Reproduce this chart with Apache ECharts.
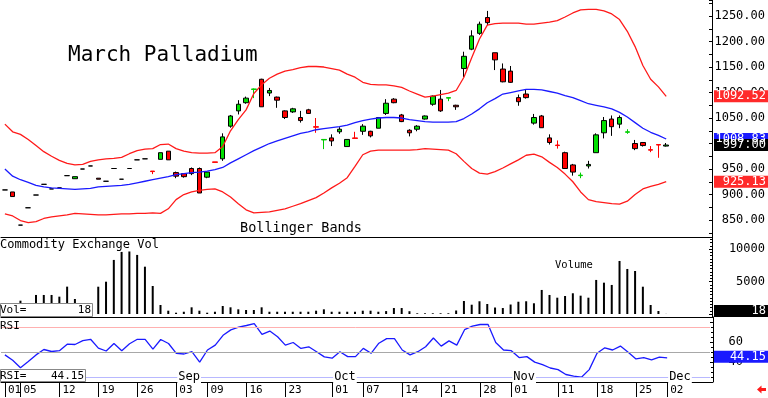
<!DOCTYPE html>
<html>
<head>
<meta charset="utf-8">
<script src="https://cdn.jsdelivr.net/npm/echarts@6/dist/echarts.min.js"></script>
<style>
  html, body { margin: 0; padding: 0; background: #fff; }
  #chart { width: 768px; height: 398px; }
</style>
</head>
<body>
<div id="chart"></div>
<script>
// trading days, Aug 01 - Dec 02
const dates = [
  '08-01','08-02','08-05','08-06','08-07','08-08','08-09','08-12','08-13','08-14',
  '08-15','08-16','08-19','08-20','08-21','08-22','08-23','08-26','08-27','08-28',
  '08-29','08-30','09-03','09-04','09-05','09-06','09-09','09-10','09-11','09-12',
  '09-13','09-16','09-17','09-18','09-19','09-20','09-23','09-24','09-25','09-26',
  '09-27','09-30','10-01','10-02','10-03','10-04','10-07','10-08','10-09','10-10',
  '10-11','10-14','10-15','10-16','10-17','10-18','10-21','10-22','10-23','10-24',
  '10-25','10-28','10-29','10-30','10-31','11-01','11-04','11-05','11-06','11-07',
  '11-08','11-11','11-12','11-13','11-14','11-15','11-18','11-19','11-20','11-21',
  '11-22','11-25','11-26','11-27','11-29','12-02'
];

const opens = [
  909, 905, 840, 874, 899, 920, 911, 913, 937, 931,
  950, 956, 932, 926, 951, 930, 951, 968, 970, 946,
  969, 985, 943, 941, 951, 951, 934, 964, 970, 1034,
  1064, 1080, 1106, 1126, 1099, 1091, 1064, 1062, 1051, 1066,
  1033, 1007, 1011, 1023, 994, 1011, 1024, 1024, 1030, 1059,
  1087, 1056, 1026, 1028, 1048, 1077, 1087, 1089, 1075, 1147,
  1185, 1216, 1247, 1178, 1146, 1142, 1090, 1097, 1040, 1054,
  1011, 997, 982, 958, 937, 956, 982, 1021, 1048, 1038,
  1022, 1000, 1002, 988, 998, 995
];
const closes = [
  909, 896, 840, 874, 899, 920, 911, 913, 937, 935,
  950, 956, 930, 926, 951, 930, 951, 968, 970, 945,
  982, 968, 936, 935, 941, 903, 944, 963, 1013, 1054,
  1077, 1089, 1107, 1072, 1104, 1085, 1051, 1068, 1045, 1059,
  1032, 1008, 1005, 1028, 1008, 1010, 1034, 1015, 1051, 1079,
  1080, 1043, 1021, 1034, 1054, 1093, 1064, 1090, 1072, 1171,
  1211, 1234, 1237, 1164, 1121, 1120, 1082, 1090, 1051, 1031,
  1002, 996, 951, 944, 938, 959, 1017, 1045, 1033, 1051,
  1023, 990, 996, 987, 997, 997
];
const lows = [
  909, 896, 840, 874, 899, 920, 911, 913, 937, 931,
  950, 956, 930, 926, 951, 930, 951, 968, 970, 940,
  969, 968, 932, 933, 938, 903, 932, 963, 966, 1031,
  1057, 1078, 1089, 1072, 1093, 1070, 1048, 1060, 1041, 1058,
  1021, 989, 995, 1019, 994, 1010, 1017, 1012, 1030, 1056,
  1079, 1042, 1014, 1024, 1047, 1074, 1062, 1083, 1066, 1130,
  1183, 1213, 1232, 1144, 1120, 1119, 1074, 1088, 1037, 1031,
  998, 990, 950, 937, 932, 951, 982, 1010, 1015, 1030,
  1019, 987, 994, 983, 972, 994
];
const highs = [
  909, 905, 840, 874, 899, 920, 911, 913, 937, 935,
  950, 956, 932, 926, 951, 930, 951, 968, 970, 946,
  982, 985, 945, 942, 953, 953, 945, 964, 1020, 1056,
  1085, 1092, 1108, 1127, 1109, 1092, 1065, 1070, 1064, 1068,
  1050, 1008, 1018, 1032, 1008, 1023, 1038, 1025, 1052, 1087,
  1089, 1058, 1028, 1036, 1055, 1094, 1105, 1091, 1076, 1180,
  1222, 1239, 1260, 1178, 1157, 1152, 1096, 1106, 1058, 1056,
  1018, 1006, 984, 960, 943, 966, 1020, 1052, 1055, 1055,
  1028, 1007, 1003, 995, 998, 1001
];

const upperBand = [
  1038, 1023, 1018, 1008, 996, 984, 975, 967, 961, 958,
  959, 965, 968, 970, 971, 973, 980, 986, 989, 990,
  998, 999, 990, 985, 982, 981, 981, 982, 994, 1025,
  1047, 1066, 1098, 1115, 1128, 1136, 1142, 1145, 1149, 1151,
  1151, 1150, 1147, 1144, 1136, 1130, 1120, 1116, 1115, 1115,
  1113, 1110, 1103, 1097, 1091, 1093, 1096, 1099, 1104, 1130,
  1168, 1205, 1232, 1235, 1236, 1236, 1236, 1234, 1234, 1236,
  1238, 1241, 1248, 1256, 1262, 1263, 1263, 1260, 1254, 1243,
  1220, 1190, 1153, 1126, 1111, 1092.52
];
const midBand = [
  950, 936, 929, 924, 918, 915, 913, 912, 911, 910,
  911, 912, 915, 916, 917, 918, 920, 923, 926, 929,
  932, 935, 939, 941, 943, 944, 946, 949, 953, 962,
  970, 978, 986, 993, 1000, 1005, 1010, 1015, 1020, 1023,
  1027, 1029, 1031, 1033, 1036, 1041, 1045, 1048, 1050, 1051,
  1051, 1050, 1047, 1045, 1043, 1042, 1042, 1042, 1043, 1049,
  1058, 1068, 1080, 1088, 1097, 1100, 1103, 1106, 1106, 1105,
  1102, 1099, 1094, 1090, 1084, 1078, 1075, 1072, 1068, 1061,
  1052, 1041, 1030, 1022, 1016, 1008.83
];
const lowerBand = [
  862, 858, 849, 845, 847, 853, 856, 858, 860, 863,
  862, 861, 860, 860, 861, 862, 862, 863, 863, 864,
  863, 872, 890, 900, 905, 908, 910, 911, 905, 895,
  882, 870, 864, 865, 866, 869, 872, 877, 882, 888,
  894, 903, 913, 922, 933, 955, 978, 985, 987, 987,
  987, 987, 987, 988, 990, 989, 988, 987, 980, 965,
  951, 942, 940, 945, 952, 960, 968, 977, 979, 974,
  963, 953, 940, 925, 905, 890, 886, 884, 882, 881,
  887, 900, 911, 916, 920, 925.13
];

const volumes = [
  400, 600, 2050, 900, 2930, 2930, 2930, 2670, 4210, 2310,
  800, 500, 4200, 4970, 8320, 9550, 9620, 9090, 7280, 4310,
  1390, 510, 200, 350, 1030, 510, 200, 350, 1230, 1030,
  720, 620, 620, 1030, 350, 350, 350, 350, 350, 350,
  510, 720, 350, 350, 350, 350, 510, 510, 350, 450,
  920, 920, 430, 110, 110, 110, 110, 110, 540, 2000,
  1430, 1960, 1540, 1000, 920, 1460, 1890, 1960, 1650, 3700,
  2930, 2510, 2770, 3190, 2820, 2510, 5240, 4820, 4470, 8160,
  6930, 6620, 4200, 1390, 460, 18
];

const rsiValues = [
  47.1, 41.7, 34.3, 40.5, 47.1, 52.5, 50.5, 51.3, 57.8, 57.5,
  61.3, 62.7, 53.9, 51.0, 58.5, 51.3, 58.3, 62.7, 62.7, 52.9,
  62.5, 58.5, 48.7, 48.0, 50.3, 39.9, 52.0, 56.9, 66.7, 72.1,
  74.8, 76.5, 78.4, 67.6, 70.9, 65.2, 56.9, 59.5, 53.6, 55.2,
  50.3, 45.1, 43.8, 50.3, 45.4, 45.4, 53.6, 48.7, 58.8, 63.4,
  63.4, 52.0, 47.1, 50.3, 55.2, 64.0, 55.9, 61.1, 56.9, 72.3,
  75.8, 77.5, 77.7, 59.5, 52.0, 51.3, 44.4, 45.4, 39.9, 37.3,
  34.0, 32.4, 27.5, 25.8, 24.8, 32.4, 48.7, 54.2, 52.0, 55.9,
  49.7, 43.1, 44.4, 42.2, 44.8, 44.15
];

const tickDates = ['08-01','08-05','08-12','08-19','08-26','09-03','09-09','09-16','09-23',
  '10-01','10-07','10-14','10-21','10-28','11-01','11-11','11-18','11-25','12-02'];
const monthStarts = ['09-03', '10-01', '11-01', '12-02'];
const monthNames = ['Sep', 'Oct', 'Nov', 'Dec'];
const rsiLevels = [75, 50, 25];

const mono = '"DejaVu Sans Mono", monospace';
// empty slots to the right of the last bar
const categories = dates.concat(['', '', '', '', '']);
const tickIdx = new Set(tickDates.map(d => dates.indexOf(d)));

const candleData = dates.map((d, i) => {
  const item = { value: [opens[i], closes[i], lows[i], highs[i]] };
  if (highs[i] > lows[i] && Math.abs(opens[i] - closes[i]) <= 1) {
    const c = closes[i] >= opens[i] ? '#00cc00' : '#ff0000';
    item.itemStyle = { borderColor: c, borderColor0: c };
  }
  return item;
});

const chart = echarts.init(document.getElementById('chart'));

const catAxis = (gridIndex, extra) => Object.assign({
  type: 'category',
  gridIndex: gridIndex,
  data: categories,
  boundaryGap: true,
  axisLine: { show: true, onZero: false, lineStyle: { color: '#000', width: 1 } },
  axisTick: { show: false },
  axisLabel: { show: false },
  splitLine: { show: false }
}, extra);

chart.setOption({
  animation: false,
  backgroundColor: '#fff',
  grid: [
    { left: 1, top: 0, width: 709, height: 237 },
    { left: 1, top: 237, width: 709, height: 80 },
    { left: 1, top: 317, width: 709, height: 65 }
  ],
  xAxis: [
    catAxis(0),
    catAxis(1),
    catAxis(2, {
      axisTick: {
        show: true, alignWithLabel: true, length: 15,
        interval: (i) => tickIdx.has(i),
        lineStyle: { color: '#000' }
      },
      axisLabel: {
        show: true,
        interval: (i) => tickIdx.has(i),
        formatter: (v) => v.slice(-2),
        align: 'left', padding: [0, 0, 0, 3], margin: 3,
        fontFamily: mono, fontSize: 11, color: '#000'
      }
    })
  ],
  yAxis: [
    {
      type: 'value', gridIndex: 0, position: 'right', offset: 3,
      min: 816.7, max: 1281.4, splitNumber: 9, scale: true,
      axisLine: { show: true, lineStyle: { color: '#000' } },
      axisTick: { show: true, inside: true, length: 3, lineStyle: { color: '#000' } },
      minorTick: { show: true, splitNumber: 2, length: 3, lineStyle: { color: '#000' } },
      splitLine: { show: false },
      axisLabel: {
        align: 'right', margin: 53, fontFamily: mono, fontSize: 12, color: '#000',
        formatter: (v) => (Math.abs(v % 50) < 1e-6 ? v.toFixed(2) : '')
      }
    },
    {
      type: 'value', gridIndex: 1, position: 'right', offset: 3,
      min: -460, max: 11846, splitNumber: 2,
      axisLine: { show: true, lineStyle: { color: '#000' } },
      axisTick: { show: true, inside: true, length: 3, lineStyle: { color: '#000' } },
      minorTick: { show: true, splitNumber: 10, length: 2, lineStyle: { color: '#000' } },
      splitLine: { show: false },
      axisLabel: {
        align: 'right', margin: 53, fontFamily: mono, fontSize: 12, color: '#000',
        formatter: (v) => (v === 5000 || v === 10000 ? String(v) : '')
      }
    },
    {
      type: 'value', gridIndex: 2, position: 'right', offset: 3,
      min: 20, max: 85, interval: 20,
      axisLine: { show: true, lineStyle: { color: '#000' } },
      axisTick: { show: true, inside: true, length: 3, lineStyle: { color: '#000' } },
      minorTick: { show: true, splitNumber: 4, length: 2, lineStyle: { color: '#000' } },
      splitLine: { show: false },
      axisLabel: {
        align: 'right', margin: 30, fontFamily: mono, fontSize: 12, color: '#000',
        formatter: (v) => (v === 40 || v === 60 ? String(v) : '')
      }
    }
  ],
  series: [
    {
      name: 'Upper', type: 'line', xAxisIndex: 0, yAxisIndex: 0,
      data: upperBand, showSymbol: false, silent: true,
      lineStyle: { color: '#ff1a1a', width: 1.3 }
    },
    {
      name: 'Middle', type: 'line', xAxisIndex: 0, yAxisIndex: 0,
      data: midBand, showSymbol: false, silent: true,
      lineStyle: { color: '#1a1aff', width: 1.3 }
    },
    {
      name: 'Lower', type: 'line', xAxisIndex: 0, yAxisIndex: 0,
      data: lowerBand, showSymbol: false, silent: true,
      lineStyle: { color: '#ff1a1a', width: 1.3 }
    },
    {
      name: 'March Palladium', type: 'candlestick', xAxisIndex: 0, yAxisIndex: 0,
      data: candleData, barWidth: 5,
      itemStyle: {
        color: '#00e000', color0: '#ff0000',
        borderColor: '#000', borderColor0: '#000', borderWidth: 1
      }
    },
    {
      name: 'Volume', type: 'bar', xAxisIndex: 1, yAxisIndex: 1,
      data: volumes, barWidth: 2,
      itemStyle: { color: '#000' }
    },
    {
      name: 'RSI', type: 'line', xAxisIndex: 2, yAxisIndex: 2,
      data: rsiValues, showSymbol: false,
      lineStyle: { color: '#1a1aff', width: 1.3 },
      markLine: {
        silent: true, symbol: 'none', label: { show: false },
        data: [
          { yAxis: rsiLevels[0], lineStyle: { color: '#ffb0b0', type: 'solid', width: 1 } },
          { yAxis: rsiLevels[1], lineStyle: { color: '#a8a8a8', type: 'solid', width: 1 } },
          { yAxis: rsiLevels[2], lineStyle: { color: '#b8b8ff', type: 'solid', width: 1 } }
        ]
      }
    }
  ]
});

// value boxes on the right axis, month names on the RSI base line
const last = dates.length - 1;
const box = (y, text, bg) => [
  { type: 'rect', z: 100, shape: { x: 714, y: y - 6, width: 54, height: 12 }, style: { fill: bg } },
  { type: 'text', z: 101, style: { x: 766, y: y, text: text, fill: '#fff', font: '12px ' + mono, textAlign: 'right', textVerticalAlign: 'middle' } }
];
const py = (axis, v) => chart.convertToPixel({ yAxisIndex: axis }, v);

let elements = [];
elements = elements.concat(box(py(0, upperBand[last]), upperBand[last].toFixed(2), '#ff2a2a'));
elements = elements.concat(box(py(0, lowerBand[last]), lowerBand[last].toFixed(2), '#ff2a2a'));
elements = elements.concat(box(py(0, midBand[last]), midBand[last].toFixed(2), '#1a1aff'));
elements = elements.concat(box(py(0, closes[last]), closes[last].toFixed(2), '#000'));
elements = elements.concat(box(Math.min(py(1, volumes[last]) - 2, 311), String(volumes[last]), '#000'));
elements = elements.concat(box(py(2, rsiValues[last]) - 1, rsiValues[last].toFixed(2), '#1a1aff'));

monthStarts.forEach((d, k) => {
  const p = chart.convertToPixel({ xAxisIndex: 2, yAxisIndex: 2 }, [dates.indexOf(d), rsiLevels[2]]);
  elements.push({
    type: 'text', z: 50,
    style: {
      x: p[0] + 1, y: p[1], text: monthNames[k], fill: '#000', font: '12px ' + mono,
      textAlign: 'left', textVerticalAlign: 'middle', backgroundColor: '#fff', padding: [0, 1]
    }
  });
});

elements = elements.concat([
  { type: 'text', z: 60, style: { x: 68, y: 56, text: 'March Palladium', fill: '#000', font: '21px ' + mono, textVerticalAlign: 'middle' } },
  { type: 'text', z: 60, style: { x: 240, y: 228, text: 'Bollinger Bands', fill: '#000', font: '13.5px ' + mono, textVerticalAlign: 'middle' } },
  { type: 'text', z: 60, style: { x: 0, y: 245, text: 'Commodity Exchange Vol', fill: '#000', font: '12px ' + mono, textVerticalAlign: 'middle' } },
  { type: 'text', z: 60, style: { x: 555, y: 265, text: 'Volume', fill: '#000', font: '10.5px ' + mono, textVerticalAlign: 'middle' } },
  { type: 'text', z: 60, style: { x: 0, y: 326, text: 'RSI', fill: '#000', font: '11px ' + mono, textVerticalAlign: 'middle' } },
  // left value boxes
  { type: 'rect', z: 60, shape: { x: 0.5, y: 303.5, width: 92, height: 13 }, style: { fill: '#fff', stroke: '#888', lineWidth: 1 } },
  { type: 'text', z: 61, style: { x: 0, y: 310, text: 'Vol=', fill: '#000', font: '11px ' + mono, textVerticalAlign: 'middle' } },
  { type: 'text', z: 61, style: { x: 91, y: 310, text: String(volumes[last]), fill: '#000', font: '11px ' + mono, textAlign: 'right', textVerticalAlign: 'middle' } },
  { type: 'rect', z: 60, shape: { x: 0.5, y: 369.5, width: 85, height: 12 }, style: { fill: '#fff', stroke: '#888', lineWidth: 1 } },
  { type: 'text', z: 61, style: { x: 0, y: 376, text: 'RSI=', fill: '#000', font: '11px ' + mono, textVerticalAlign: 'middle' } },
  { type: 'text', z: 61, style: { x: 84, y: 376, text: rsiValues[last].toFixed(2), fill: '#000', font: '11px ' + mono, textAlign: 'right', textVerticalAlign: 'middle' } },
  // scroll arrow
  { type: 'polygon', z: 60, shape: { points: [[757, 389.5], [761.5, 385.5], [761.5, 388], [766, 388], [766, 391], [761.5, 391], [761.5, 393.5]] }, style: { fill: '#ff1a1a' } }
]);

chart.setOption({ graphic: { elements: elements } });
</script>
</body>
</html>
